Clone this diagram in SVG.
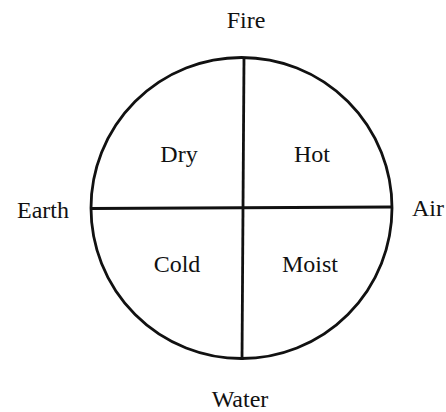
<svg xmlns="http://www.w3.org/2000/svg" width="446" height="412" viewBox="0 0 446 412">
<style>
.t{font-family:"Liberation Serif","Times New Roman",serif;font-size:24px;fill:#111;text-anchor:middle}
.s{fill:none;stroke:#111;stroke-width:2.8}
</style>
<rect width="446" height="412" fill="#fff"/>
<g id="circle"><circle class="s" cx="241.5" cy="208" r="150.5"/></g>
<g id="connectors">
<line class="s" x1="244" y1="57" x2="242" y2="360"/>
<line class="s" x1="91" y1="208.5" x2="392" y2="207"/>
</g>
<g id="fire"><text class="t" x="246" y="28">Fire</text></g>
<g id="earth"><text class="t" x="43" y="218">Earth</text></g>
<g id="air"><text class="t" x="428" y="216">Air</text></g>
<g id="water"><text class="t" x="240" y="407">Water</text></g>
<g id="dry"><text class="t" x="179" y="162">Dry</text></g>
<g id="hot"><text class="t" x="312" y="162">Hot</text></g>
<g id="cold"><text class="t" x="177" y="272">Cold</text></g>
<g id="moist"><text class="t" x="310" y="272">Moist</text></g>
</svg>
